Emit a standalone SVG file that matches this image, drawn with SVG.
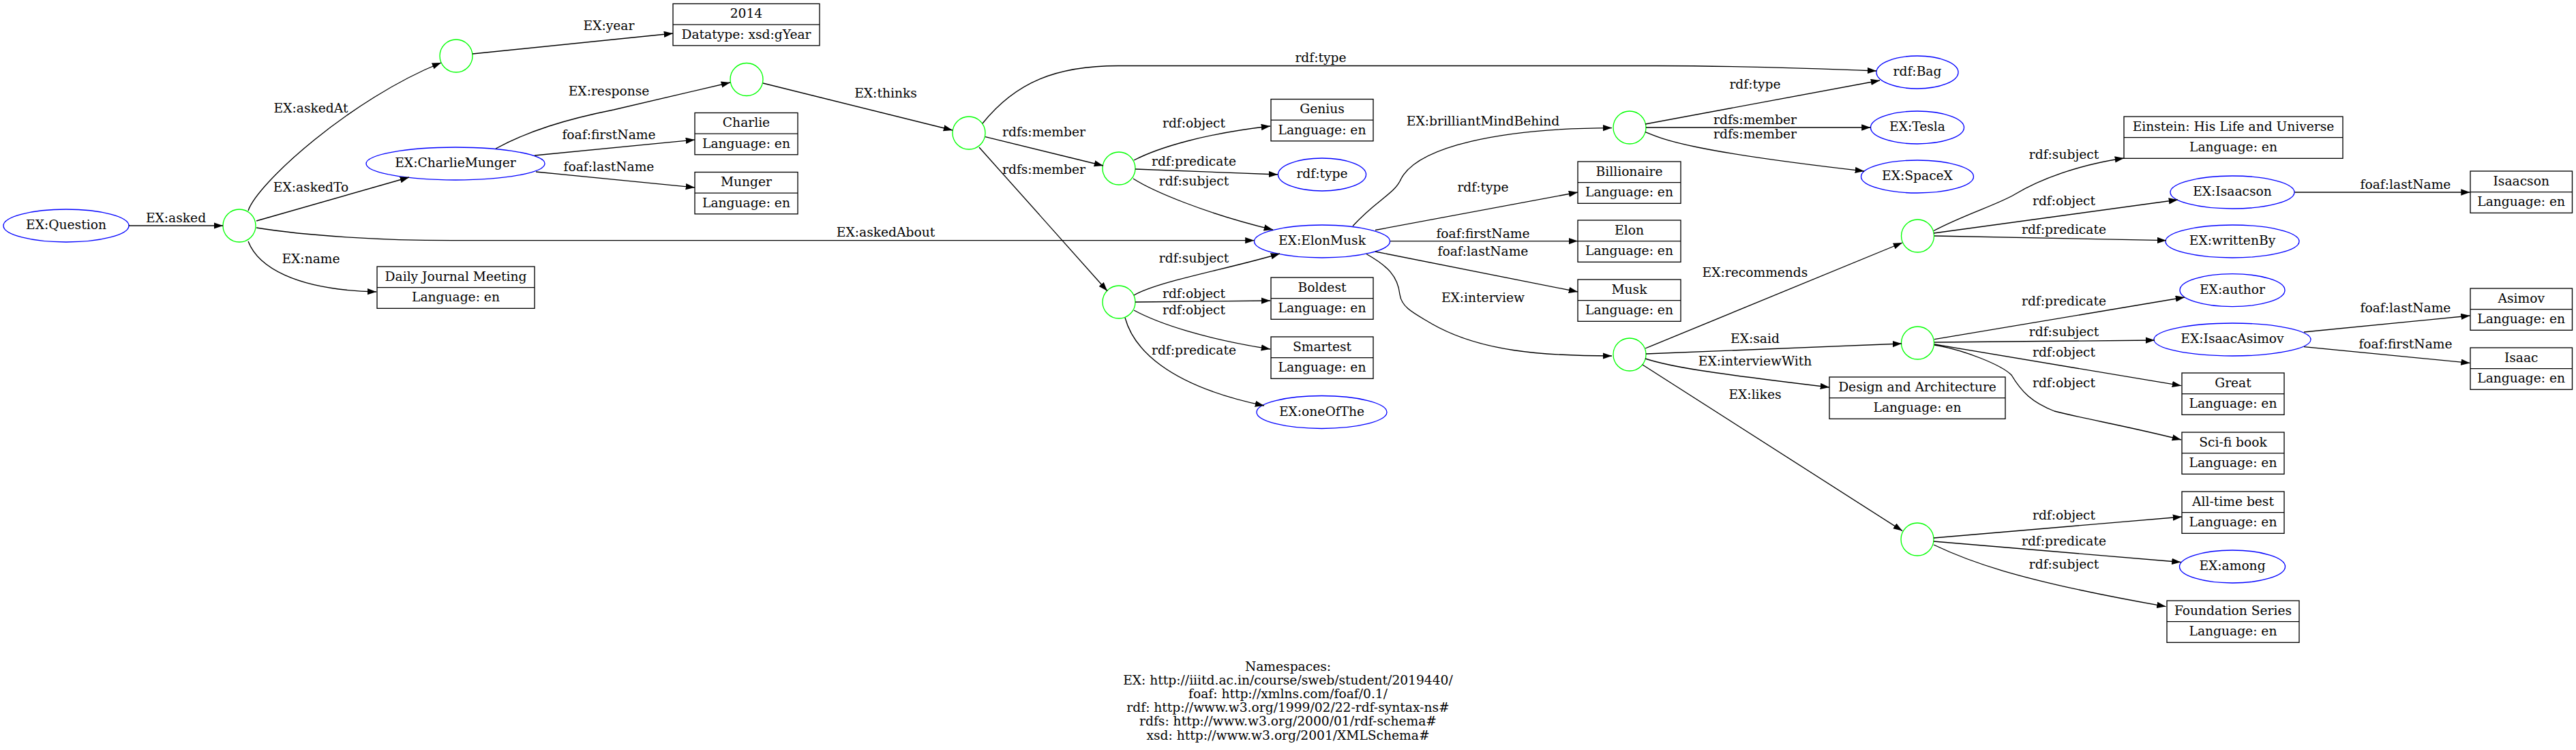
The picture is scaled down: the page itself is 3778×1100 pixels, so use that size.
<svg xmlns="http://www.w3.org/2000/svg" width="3778" height="1100" viewBox="0 0 3778 1100">
<style>
.res{fill:none;stroke:#0000ff;stroke-width:1.33}
.bn{fill:none;stroke:#00ff00;stroke-width:1.33}
.lit{fill:none;stroke:#000;stroke-width:1.33}
.e{fill:none;stroke:#000;stroke-width:1.33;marker-end:url(#ah)}
text{font-family:"DejaVu Serif",serif;font-size:18.67px;text-anchor:middle;fill:#000}
</style>
<defs>
<marker id="ah" markerUnits="userSpaceOnUse" viewBox="0 0 14 10" markerWidth="14" markerHeight="10" refX="13.3" refY="4.67" orient="auto"><path d="M0,0 L13.3,4.67 L0,9.33 z" fill="#000"/></marker>
</defs>
<rect x="0" y="0" width="3778" height="1100" fill="#fff"/>

<g id="nodes">
<g id="n_question"><ellipse class="res" cx="97" cy="331" rx="92" ry="24"/><text x="97" y="336">EX:Question</text></g>
<g id="n_b1"><circle class="bn" cx="351" cy="331" r="24"/></g>
<g id="n_b2"><circle class="bn" cx="669" cy="82" r="24"/></g>
<g id="n_charlie_munger"><ellipse class="res" cx="668" cy="240" rx="131" ry="24"/><text x="668" y="245">EX:CharlieMunger</text></g>
<g id="n_b3"><circle class="bn" cx="1095" cy="116.5" r="24"/></g>
<g id="n_b4"><circle class="bn" cx="1421" cy="195" r="24"/></g>
<g id="n_b5"><circle class="bn" cx="1641" cy="247" r="24"/></g>
<g id="n_b6"><circle class="bn" cx="1641" cy="443" r="24"/></g>
<g id="n_rdftype"><ellipse class="res" cx="1939" cy="256" rx="64.5" ry="24"/><text x="1939" y="261">rdf:type</text></g>
<g id="n_elonmusk"><ellipse class="res" cx="1939" cy="354" rx="99.5" ry="24"/><text x="1939" y="359">EX:ElonMusk</text></g>
<g id="n_oneofthe"><ellipse class="res" cx="1938.5" cy="604.5" rx="95.5" ry="24"/><text x="1938.5" y="609.5">EX:oneOfThe</text></g>
<g id="n_b7"><circle class="bn" cx="2390" cy="187" r="24"/></g>
<g id="n_b8"><circle class="bn" cx="2390" cy="520" r="24"/></g>
<g id="n_bag"><ellipse class="res" cx="2812" cy="106" rx="60" ry="24"/><text x="2812" y="111">rdf:Bag</text></g>
<g id="n_tesla"><ellipse class="res" cx="2812" cy="187" rx="68.5" ry="24"/><text x="2812" y="192">EX:Tesla</text></g>
<g id="n_spacex"><ellipse class="res" cx="2812" cy="259" rx="82.5" ry="24"/><text x="2812" y="264">EX:SpaceX</text></g>
<g id="n_b9"><circle class="bn" cx="2812.5" cy="346" r="24"/></g>
<g id="n_b10"><circle class="bn" cx="2812.5" cy="503" r="24"/></g>
<g id="n_b11"><circle class="bn" cx="2812" cy="791" r="24"/></g>
<g id="n_isaacson"><ellipse class="res" cx="3274" cy="282" rx="91" ry="24"/><text x="3274" y="287">EX:Isaacson</text></g>
<g id="n_writtenby"><ellipse class="res" cx="3274" cy="354" rx="98" ry="24"/><text x="3274" y="359">EX:writtenBy</text></g>
<g id="n_author"><ellipse class="res" cx="3274" cy="425.7" rx="77" ry="24"/><text x="3274" y="430.7">EX:author</text></g>
<g id="n_isaacasimov"><ellipse class="res" cx="3274" cy="498" rx="115" ry="24"/><text x="3274" y="503">EX:IsaacAsimov</text></g>
<g id="n_among"><ellipse class="res" cx="3274" cy="831" rx="77.5" ry="24"/><text x="3274" y="836">EX:among</text></g>

<g id="l_2014"><rect class="lit" x="987" y="5.5" width="215" height="61.3"/><line class="lit" x1="987" y1="36.2" x2="1202" y2="36.2"/><text x="1094.5" y="26">2014</text><text x="1094.5" y="56.5">Datatype: xsd:gYear</text></g>
<g id="l_charlie"><rect class="lit" x="1019" y="165.5" width="151" height="61.3"/><line class="lit" x1="1019" y1="196.2" x2="1170" y2="196.2"/><text x="1094.5" y="186">Charlie</text><text x="1094.5" y="216.5">Language: en</text></g>
<g id="l_munger"><rect class="lit" x="1019" y="252.5" width="151" height="61.3"/><line class="lit" x1="1019" y1="283.2" x2="1170" y2="283.2"/><text x="1094.5" y="273">Munger</text><text x="1094.5" y="303.5">Language: en</text></g>
<g id="l_djm"><rect class="lit" x="553" y="391" width="231" height="61.3"/><line class="lit" x1="553" y1="421.7" x2="784" y2="421.7"/><text x="668.5" y="411.5">Daily Journal Meeting</text><text x="668.5" y="442">Language: en</text></g>
<g id="l_genius"><rect class="lit" x="1864" y="145.5" width="150" height="61.3"/><line class="lit" x1="1864" y1="176.2" x2="2014" y2="176.2"/><text x="1939" y="166">Genius</text><text x="1939" y="196.5">Language: en</text></g>
<g id="l_boldest"><rect class="lit" x="1864" y="407" width="150" height="61.3"/><line class="lit" x1="1864" y1="437.7" x2="2014" y2="437.7"/><text x="1939" y="427.5">Boldest</text><text x="1939" y="458">Language: en</text></g>
<g id="l_smartest"><rect class="lit" x="1864" y="494" width="150" height="61.3"/><line class="lit" x1="1864" y1="524.7" x2="2014" y2="524.7"/><text x="1939" y="514.5">Smartest</text><text x="1939" y="545">Language: en</text></g>
<g id="l_billionaire"><rect class="lit" x="2314" y="237" width="151" height="61.3"/><line class="lit" x1="2314" y1="267.7" x2="2465" y2="267.7"/><text x="2389.5" y="257.5">Billionaire</text><text x="2389.5" y="288">Language: en</text></g>
<g id="l_elon"><rect class="lit" x="2314" y="323" width="151" height="61.3"/><line class="lit" x1="2314" y1="353.7" x2="2465" y2="353.7"/><text x="2389.5" y="343.5">Elon</text><text x="2389.5" y="374">Language: en</text></g>
<g id="l_musk"><rect class="lit" x="2314" y="410" width="151" height="61.3"/><line class="lit" x1="2314" y1="440.7" x2="2465" y2="440.7"/><text x="2389.5" y="430.5">Musk</text><text x="2389.5" y="461">Language: en</text></g>
<g id="l_design"><rect class="lit" x="2683" y="553" width="258" height="61.3"/><line class="lit" x1="2683" y1="583.7" x2="2941" y2="583.7"/><text x="2812" y="573.5">Design and Architecture</text><text x="2812" y="604">Language: en</text></g>
<g id="l_einstein"><rect class="lit" x="3115" y="171" width="321" height="61.3"/><line class="lit" x1="3115" y1="201.7" x2="3436" y2="201.7"/><text x="3275.5" y="191.5">Einstein: His Life and Universe</text><text x="3275.5" y="222">Language: en</text></g>
<g id="l_great"><rect class="lit" x="3200" y="547" width="150" height="61.3"/><line class="lit" x1="3200" y1="577.7" x2="3350" y2="577.7"/><text x="3275" y="567.5">Great</text><text x="3275" y="598">Language: en</text></g>
<g id="l_scifi"><rect class="lit" x="3200" y="634" width="150" height="61.3"/><line class="lit" x1="3200" y1="664.7" x2="3350" y2="664.7"/><text x="3275" y="654.5">Sci-fi book</text><text x="3275" y="685">Language: en</text></g>
<g id="l_alltime"><rect class="lit" x="3200" y="721" width="150" height="61.3"/><line class="lit" x1="3200" y1="751.7" x2="3350" y2="751.7"/><text x="3275" y="741.5">All-time best</text><text x="3275" y="772">Language: en</text></g>
<g id="l_foundation"><rect class="lit" x="3178" y="881" width="194" height="61.3"/><line class="lit" x1="3178" y1="911.7" x2="3372" y2="911.7"/><text x="3275" y="901.5">Foundation Series</text><text x="3275" y="932">Language: en</text></g>
<g id="l_isaacson"><rect class="lit" x="3623" y="251" width="149.5" height="61.3"/><line class="lit" x1="3623" y1="281.7" x2="3772.5" y2="281.7"/><text x="3697.7" y="271.5">Isaacson</text><text x="3697.7" y="302">Language: en</text></g>
<g id="l_asimov"><rect class="lit" x="3623" y="423" width="149.5" height="61.3"/><line class="lit" x1="3623" y1="453.7" x2="3772.5" y2="453.7"/><text x="3697.7" y="443.5">Asimov</text><text x="3697.7" y="474">Language: en</text></g>
<g id="l_isaac"><rect class="lit" x="3623" y="510" width="149.5" height="61.3"/><line class="lit" x1="3623" y1="540.7" x2="3772.5" y2="540.7"/><text x="3697.7" y="530.5">Isaac</text><text x="3697.7" y="561">Language: en</text></g>
</g>

<g id="connectors">
<g><path class="e" d="M189,331 L327,331"/><text x="258" y="325.5">EX:asked</text></g>
<g><path class="e" d="M364,309 C378,268 515,145 647,92"/><text x="456" y="165">EX:askedAt</text></g>
<g><path class="e" d="M376,324 L600,260"/><text x="456" y="281">EX:askedTo</text></g>
<g><path class="e" d="M376,334 C450,346 560,352.7 663,352.7 L1839.5,352.7"/><text x="1299" y="347">EX:askedAbout</text></g>
<g><path class="e" d="M364,354 C378,390 430,425 552,428"/><text x="456" y="386">EX:name</text></g>
<g><path class="e" d="M693,79 L987,49"/><text x="893" y="44">EX:year</text></g>
<g><path class="e" d="M727,218 C775,192 830,175 900,161 L1071,121"/><text x="893" y="140">EX:response</text></g>
<g><path class="e" d="M784,228 L1019,205"/><text x="893" y="204">foaf:firstName</text></g>
<g><path class="e" d="M786,252 L1019,275"/><text x="893" y="251">foaf:lastName</text></g>
<g><path class="e" d="M1119,122 L1397,191"/><text x="1299" y="143">EX:thinks</text></g>
<g><path class="e" d="M1441,181 C1490,120 1550,96.5 1640,96.5 L2430,96.5 C2550,96.5 2650,100 2752,104"/><text x="1937" y="90.5">rdf:type</text></g>
<g><path class="e" d="M1445,200.6 L1618,243"/><text x="1531" y="200">rdfs:member</text></g>
<g><path class="e" d="M1436,216 L1624,426.7"/><text x="1531" y="255">rdfs:member</text></g>
<g><path class="e" d="M1663,235 C1700,216 1767,196 1863,185"/><text x="1751" y="187">rdf:object</text></g>
<g><path class="e" d="M1665,248 L1874,256"/><text x="1751" y="243">rdf:predicate</text></g>
<g><path class="e" d="M1662,262 C1690,280 1767,313 1867,337"/><text x="1751" y="271.5">rdf:subject</text></g>
<g><path class="e" d="M1663,433 C1700,412 1800,395 1877,372"/><text x="1751" y="385">rdf:subject</text></g>
<g><path class="e" d="M1665,443 L1863,441"/><text x="1751" y="436.5">rdf:object</text></g>
<g><path class="e" d="M1663,455 C1700,475 1767,497 1863,512"/><text x="1751" y="461">rdf:object</text></g>
<g><path class="e" d="M1650,466 C1662,510 1710,565 1854,595"/><text x="1751" y="520">rdf:predicate</text></g>
<g><path class="e" d="M1984,331.5 C2020,292 2045,285 2055,262 C2080,215 2200,188 2364,187.6"/><text x="2175" y="184">EX:brilliantMindBehind</text></g>
<g><path class="e" d="M2017,337.5 L2314,282"/><text x="2175" y="280.6">rdf:type</text></g>
<g><path class="e" d="M2039,353.6 L2314,353.6"/><text x="2175" y="349">foaf:firstName</text></g>
<g><path class="e" d="M2017,369 L2314,428"/><text x="2175" y="374.6">foaf:lastName</text></g>
<g><path class="e" d="M2004,372.5 C2035,390 2050,405 2053,432 C2056,452 2075,460 2100,475 C2170,515 2260,522 2364,522"/><text x="2175" y="442.6">EX:interview</text></g>
<g><path class="e" d="M2413,182 L2757,118"/><text x="2574" y="130">rdf:type</text></g>
<g><path class="e" d="M2414,187 L2743.5,187"/><text x="2574" y="182.4">rdfs:member</text></g>
<g><path class="e" d="M2413,193.6 C2440,205 2480,222 2734,251"/><text x="2574" y="203">rdfs:member</text></g>
<g><path class="e" d="M2413,511 L2790,356"/><text x="2574" y="406">EX:recommends</text></g>
<g><path class="e" d="M2414,519 L2789,504"/><text x="2574" y="503">EX:said</text></g>
<g><path class="e" d="M2413,526 C2450,538 2500,546 2683,568"/><text x="2574" y="535.6">EX:interviewWith</text></g>
<g><path class="e" d="M2409,535 L2790,778.6"/><text x="2574" y="585">EX:likes</text></g>
<g><path class="e" d="M2836,338.5 C2880,315 2930,300 2955,285 C3000,258 3060,240 3115,232"/><text x="3027" y="233">rdf:subject</text></g>
<g><path class="e" d="M2836,342 L3194,293"/><text x="3027" y="301">rdf:object</text></g>
<g><path class="e" d="M2837,346 L3177,352.7"/><text x="3027" y="343">rdf:predicate</text></g>
<g><path class="e" d="M3365.5,282 L3622.6,282"/><text x="3528" y="277">foaf:lastName</text></g>
<g><path class="e" d="M2837,497.7 L3204,436"/><text x="3027" y="448">rdf:predicate</text></g>
<g><path class="e" d="M2837,502 L3160,499"/><text x="3027" y="493">rdf:subject</text></g>
<g><path class="e" d="M2837,505 L3199,565.7"/><text x="3027" y="523">rdf:object</text></g>
<g><path class="e" d="M2837,506 C2880,513 2935,535 2950,550 C2965,575 2980,590 3013,603 C3060,615 3120,625 3199,645"/><text x="3027" y="568">rdf:object</text></g>
<g><path class="e" d="M3379,487 L3622.6,463"/><text x="3528" y="457.7">foaf:lastName</text></g>
<g><path class="e" d="M3379,508.6 L3622.6,532.4"/><text x="3528" y="511.4">foaf:firstName</text></g>
<g><path class="e" d="M2836,789 L3200,758"/><text x="3027" y="762">rdf:object</text></g>
<g><path class="e" d="M2836,794 L3198.5,824.5"/><text x="3027" y="800">rdf:predicate</text></g>
<g><path class="e" d="M2836,799 C2880,820 2950,850 3176.5,889.6"/><text x="3027" y="833.7">rdf:subject</text></g>
</g>

<g id="namespaces">
<text x="1889" y="983.5">Namespaces:</text>
<text x="1889" y="1003.7">EX: http://iiitd.ac.in/course/sweb/student/2019440/</text>
<text x="1889" y="1023.9">foaf: http://xmlns.com/foaf/0.1/</text>
<text x="1889" y="1044.1">rdf: http://www.w3.org/1999/02/22-rdf-syntax-ns#</text>
<text x="1889" y="1064.3">rdfs: http://www.w3.org/2000/01/rdf-schema#</text>
<text x="1889" y="1084.5">xsd: http://www.w3.org/2001/XMLSchema#</text>
</g>
</svg>
